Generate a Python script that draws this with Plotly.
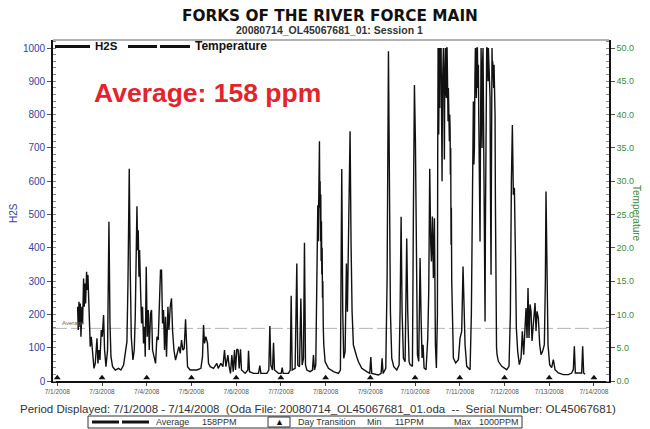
import plotly.graph_objects as go

# ---------------- data ----------------
day_labels = ["7/1/2008", "7/3/2008", "7/4/2008", "7/5/2008", "7/6/2008", "7/7/2008",
              "7/8/2008", "7/9/2008", "7/10/2008", "7/11/2008", "7/12/2008", "7/13/2008", "7/14/2008"]
day_transitions = [0, 1, 2, 3, 4, 5, 6, 7, 8, 9, 10, 11, 12]

left_ticks = [0, 100, 200, 300, 400, 500, 600, 700, 800, 900, 1000]
right_ticks = [0, 5, 10, 15, 20, 25, 30, 35, 40, 45, 50]

average_ppm = 158
min_ppm = 11
max_ppm = 1000

# elapsed days since 7/1/2008 00:00
h2s_day = [
    0.454, 0.469, 0.485, 0.499, 0.514, 0.529, 0.551, 0.566, 0.588, 0.603, 0.618, 0.633, 0.655, 0.670,
    0.685, 0.708, 0.722, 0.737, 0.760, 0.789, 0.820, 0.849, 0.887, 0.909, 0.931, 0.954, 0.983, 1.006,
    1.035, 1.057, 1.088, 1.124, 1.155, 1.178, 1.200, 1.236, 1.296, 1.370, 1.423, 1.482, 1.527, 1.557,
    1.580, 1.609, 1.631, 1.654, 1.691, 1.721, 1.743, 1.765, 1.781, 1.795, 1.810, 1.826, 1.840, 1.862,
    1.884, 1.906, 1.928, 1.951, 1.966, 1.989, 2.011, 2.034, 2.056, 2.085, 2.107, 2.130, 2.168, 2.197,
    2.228, 2.257, 2.286, 2.308, 2.331, 2.353, 2.375, 2.398, 2.420, 2.442, 2.474, 2.496, 2.525, 2.554,
    2.577, 2.608, 2.644, 2.689, 2.719, 2.749, 2.778, 2.809, 2.838, 2.868, 2.890, 2.912, 2.972, 3.122,
    3.211, 3.247, 3.270, 3.292, 3.322, 3.359, 3.381, 3.419, 3.493, 3.568, 3.598, 3.658, 3.703, 3.739,
    3.770, 3.815, 3.844,
    3.873, 3.903, 3.933, 3.963, 3.985, 4.015, 4.045, 4.067, 4.097, 4.119, 4.164, 4.201, 4.261, 4.276,
    4.298, 4.388, 4.499, 4.529, 4.552, 4.686, 4.730, 4.753, 4.775, 4.812, 4.835, 4.857, 4.946, 5.006,
    5.029, 5.051, 5.170, 5.208, 5.230, 5.252, 5.318, 5.341, 5.356, 5.378, 5.416, 5.446, 5.475, 5.505,
    5.527, 5.550, 5.580, 5.654, 5.706, 5.728, 5.751, 5.780, 5.795, 5.803, 5.815, 5.825, 5.835, 5.847,
    5.855, 5.862, 5.870, 5.877, 5.885, 5.892, 5.900, 5.907, 5.915, 5.922, 5.930, 5.937, 5.948, 5.959,
    5.989, 6.063, 6.175, 6.287, 6.331, 6.361, 6.383, 6.405, 6.436, 6.465, 6.487, 6.517, 6.547, 6.569,
    6.592, 6.621, 6.659, 6.696, 6.734, 6.808, 6.920, 6.987, 7.010, 7.032, 7.181, 7.241, 7.263, 7.285,
    7.345, 7.375, 7.405, 7.427, 7.449, 7.479, 7.524, 7.591, 7.643, 7.665, 7.688, 7.710, 7.740, 7.777,
    7.814, 7.836, 7.866,
    7.889, 7.941, 7.963, 7.986, 8.008, 8.030, 8.053, 8.082, 8.112, 8.135, 8.157, 8.179, 8.202, 8.246,
    8.284, 8.306, 8.328, 8.351, 8.366, 8.388, 8.410, 8.433, 8.455, 8.477,
    8.500, 8.507, 8.515, 8.522, 8.529, 8.537, 8.544, 8.552, 8.559, 8.567, 8.574, 8.582, 8.590, 8.597,
    8.604, 8.612, 8.619, 8.627, 8.634, 8.641, 8.649, 8.656, 8.664, 8.671, 8.678, 8.686, 8.693, 8.701,
    8.708, 8.716, 8.723, 8.730, 8.738, 8.745, 8.753, 8.760, 8.768, 8.775, 8.783, 8.790, 8.797, 8.805,
    8.812, 8.820, 8.827, 8.842, 8.857,
    8.909, 8.969, 9.006, 9.043, 9.073, 9.096, 9.118, 9.155, 9.230,
    9.259, 9.270, 9.282, 9.293, 9.304, 9.316, 9.327, 9.338, 9.349, 9.360, 9.371, 9.383, 9.394, 9.405,
    9.416, 9.424, 9.435, 9.445, 9.453, 9.462, 9.470, 9.476, 9.485, 9.492, 9.498, 9.508, 9.515, 9.520,
    9.528, 9.536, 9.543, 9.550, 9.558, 9.565, 9.573, 9.580, 9.587, 9.595, 9.602, 9.610, 9.618, 9.625,
    9.632, 9.640, 9.647, 9.654, 9.662, 9.670, 9.677, 9.685, 9.692, 9.699, 9.707, 9.714, 9.721, 9.729,
    9.736, 9.744, 9.751, 9.759, 9.766, 9.774, 9.781, 9.789, 9.796, 9.804, 9.811, 9.822, 9.833, 9.863,
    9.938, 10.049, 10.101, 10.131, 10.154, 10.176, 10.198, 10.221, 10.243, 10.265, 10.295, 10.332,
    10.370, 10.399, 10.429, 10.459, 10.481, 10.504, 10.526, 10.548, 10.571, 10.593, 10.615, 10.638,
    10.660, 10.683, 10.705, 10.727, 10.757, 10.787, 10.817, 10.854, 10.891, 10.914, 10.928, 10.951,
    10.973, 11.010, 11.055, 11.092, 11.130, 11.204, 11.316, 11.428, 11.502, 11.539, 11.562, 11.584,
    11.651, 11.726, 11.748, 11.770, 11.800,
]

h2s_ppm = [
    223, 153, 238, 163, 233, 133, 223, 173, 308, 223, 293, 233, 328, 273,
    318, 213, 173, 103, 133, 83, 38, 53, 128, 53, 93, 63, 153, 133,
    198, 93, 43, 93, 478, 173, 73, 43, 33, 38, 33, 48, 93, 118,
    293, 637, 333, 133, 63, 93, 193, 393, 525, 393, 453, 313, 393, 273,
    173, 223, 113, 163, 73, 343, 133, 213, 93, 203, 213, 93, 73, 53,
    133, 123, 243, 333, 333, 173, 213, 93, 193, 73, 223, 153, 223, 248,
    153, 93, 63, 93, 103, 83, 123, 93, 98, 185, 93, 43, 33, 33,
    38, 73, 168, 113, 133, 113, 53, 43, 38, 53, 38, 53, 43, 93,
    43, 78, 43,
    23, 78, 28, 93, 33, 96, 93, 38, 95, 33, 28, 23, 33, 91,
    28, 23, 23, 46, 23, 23, 33, 165, 48, 33, 115, 33, 23, 23,
    40, 23, 23, 33, 256, 33, 38, 208, 353, 48, 43, 248, 48, 68,
    415, 48, 33, 28, 33, 78, 33, 48, 200, 308, 450, 528, 420, 588,
    470, 720, 520, 600, 420, 560, 360, 480, 320, 400, 250, 300, 160, 108,
    58, 38, 28, 23, 33, 637, 208, 68, 88, 353, 208, 508, 750, 408,
    208, 108, 88, 73, 58, 38, 28, 23, 72, 23, 18, 23, 68, 23,
    38, 308, 990, 548, 208, 68, 43, 33, 48, 208, 493, 208, 68, 58,
    428, 208, 58,
    49, 44, 509, 889, 719, 309, 79, 59, 369, 189, 69, 109, 39, 34,
    129, 269, 637, 409, 359, 494, 309, 489, 109, 39,
    200, 700, 1000, 860, 740, 950, 1000, 820, 1000, 850, 980, 1000, 760, 900,
    600, 880, 1000, 900, 1000, 900, 780, 665, 900, 1000, 1000, 870, 960, 850,
    1000, 1000, 880, 940, 780, 880, 800, 810, 720, 800, 759, 620, 700, 409,
    520, 300, 229, 120, 69,
    54, 64, 129, 149, 344, 200, 109, 44, 34,
    200, 420, 579, 700, 839, 650, 700, 900, 1000, 920, 850, 1000, 1000, 880,
    950, 800, 650, 520, 419, 700, 1000, 1000, 880, 760, 700, 950, 1000, 1000,
    850, 700, 609, 450, 260, 179, 450, 700, 800, 950, 1000, 1000, 920, 980,
    900, 1000, 960, 1000, 900, 870, 850, 600, 450, 319, 600, 900, 1000, 930,
    960, 909, 960, 880, 950, 870, 820, 799, 550, 300, 159, 100, 80, 59,
    44, 34, 44, 200, 600, 769, 559, 580, 389, 159, 89, 49,
    69, 149, 79, 189, 219, 129, 279, 129, 230, 209, 120, 159,
    200, 234, 150, 209, 189, 109, 79, 90, 109, 300, 569, 300,
    109, 49, 40, 64, 34, 24, 19, 19, 24, 34, 104, 24,
    24, 24, 104, 24, 20,
]

# ---------------- geometry (page pixels -> figure paper) ----------------
OFF = 8                      # page body margin that offsets the figure
PW, PH = 650, 429            # page (reference) size
W, H = PW - OFF, PH - OFF    # figure size
L, R, T, B = 53, 609, 40, 381   # plot area in page pixels


def px(x):
    return (x - L) / (R - L)


def py(y):
    return (B - y) / (B - T)


FONT = "Liberation Sans, Arial, sans-serif"
BLUE = "#33449a"
GREEN = "#3a8a3a"

fig = go.Figure()

fig.add_trace(go.Scatter(
    x=h2s_day, y=h2s_ppm, mode="lines",
    line=dict(color="#111111", width=1.4),
    name="H2S", showlegend=False, hoverinfo="skip",
))

# temperature axis carrier (no temperature trace is visible in the source)
fig.add_trace(go.Scatter(x=[None], y=[None], yaxis="y2", mode="lines",
                         name="Temperature", showlegend=False))

# day transition markers
fig.add_trace(go.Scatter(
    x=day_transitions, y=[10] * len(day_transitions), mode="markers",
    marker=dict(symbol="triangle-up", size=6, color="#111111"),
    cliponaxis=False, showlegend=False, hoverinfo="skip",
))

y_top = (B - T) / 0.333
fig.update_layout(
    width=W, height=H,
    margin=dict(l=L - OFF, r=PW - R, t=T - OFF, b=PH - B),
    paper_bgcolor="white", plot_bgcolor="white",
    font=dict(family=FONT, color="#222"),
    showlegend=False,
    xaxis=dict(
        range=[(L - 57.3) / 44.72, (R - 57.3) / 44.72],
        tickvals=day_transitions, ticktext=day_labels,
        tickfont=dict(size=6.5, color="#555"),
        ticks="outside", ticklen=3, tickcolor="#444",
        showline=True, linecolor="#111", linewidth=1.6,
        showgrid=False, zeroline=False,
    ),
    yaxis=dict(
        range=[0, y_top], tickvals=left_ticks,
        tickfont=dict(size=10, color=BLUE, family=FONT),
        ticks="outside", ticklen=4, tickcolor="#555",
        showline=True, linecolor="#111", linewidth=1.6,
        showgrid=False, zeroline=False,
        minor=dict(ticks="inside", dtick=20, ticklen=3, tickcolor="#888"),
    ),
    yaxis2=dict(
        range=[0, y_top / 20], tickvals=right_ticks, tickformat=".1f",
        overlaying="y", side="right",
        tickfont=dict(size=9, color=GREEN, family=FONT),
        ticks="outside", ticklen=4, tickcolor="#555",
        showline=True, linecolor="#111", linewidth=1.6,
        showgrid=False, zeroline=False,
        minor=dict(ticks="inside", dtick=1, ticklen=3, tickcolor="#888"),
    ),
)

shapes = []
# top frame line (grey)
shapes.append(dict(type="line", xref="paper", yref="paper", x0=0, x1=1, y0=1, y1=1,
                   line=dict(color="#666", width=1.2)))
# average line
shapes.append(dict(type="line", xref="paper", x0=0, x1=1, yref="y", y0=average_ppm, y1=average_ppm,
                   line=dict(color="#b5b5b5", width=1, dash="14px,4px"), layer="below"))
# legend lines (top-left, inside plot)
shapes.append(dict(type="line", xref="paper", yref="paper", x0=px(55), x1=px(90), y0=py(46.5), y1=py(46.5),
                   line=dict(color="#111", width=3)))
shapes.append(dict(type="line", xref="paper", yref="paper", x0=px(128), x1=px(157), y0=py(46.5), y1=py(46.5),
                   line=dict(color="#111", width=3)))
shapes.append(dict(type="line", xref="paper", yref="paper", x0=px(160), x1=px(190), y0=py(46.5), y1=py(46.5),
                   line=dict(color="#111", width=3)))
# bottom legend box
shapes.append(dict(type="rect", xref="paper", yref="paper", x0=px(88), x1=px(522), y0=py(416), y1=py(428),
                   line=dict(color="#333", width=1)))
shapes.append(dict(type="line", xref="paper", yref="paper", x0=px(92), x1=px(119), y0=py(422), y1=py(422),
                   line=dict(color="#111", width=3)))
shapes.append(dict(type="line", xref="paper", yref="paper", x0=px(122), x1=px(149), y0=py(422), y1=py(422),
                   line=dict(color="#111", width=3)))
shapes.append(dict(type="rect", xref="paper", yref="paper", x0=px(268), x1=px(290), y0=py(417), y1=py(427),
                   line=dict(color="#333", width=1)))
fig.update_layout(shapes=shapes)


def label(text, x, y, size, color="#333", anchor="left", bold=False, family=FONT, angle=0):
    return dict(text=f"<b>{text}</b>" if bold else text, x=px(x), y=py(y),
                xref="paper", yref="paper", showarrow=False, textangle=angle,
                font=dict(size=size, family=family, color=color),
                xanchor=anchor, yanchor="middle")


ann = [
    label("FORKS OF THE RIVER FORCE MAIN", 330, 16, 15.3, "#111", "center", True, "DejaVu Sans, sans-serif"),
    label("20080714_OL45067681_01: Session 1", 329, 30, 10.5, "#333", "center", True),
    label("H2S", 93, 46.5, 11.5, "#111", "left", True),
    label("Temperature", 193, 46.5, 12, "#111", "left", True),
    label(f"Average: {average_ppm} ppm", 92, 93, 26.5, "#e3242b", "left", True),
    label("H2S", 13, 213, 10, BLUE, "center", angle=-90),
    label("Temperature", 637, 213, 10, GREEN, "center", angle=90),
    label("Period Displayed: 7/1/2008 - 7/14/2008  (Oda File: 20080714_OL45067681_01.oda  --  "
          "Serial Number: OL45067681)", 318, 409, 11.5, "#333", "center"),
    label("Average", 154, 422, 9),
    label(f"{average_ppm}PPM", 200, 422, 9),
    label("\u25B2", 279, 422, 9, "#111", "center"),
    label("Day Transition", 296, 422, 9),
    label("Min", 365, 422, 9),
    label(f"{min_ppm}PPM", 393, 422, 9),
    label("Max", 452, 422, 9),
    label(f"{max_ppm}PPM", 477, 422, 9),
]
ann.append(dict(text="Average", x=px(60), y=average_ppm, xref="paper", yref="y", showarrow=False,
                font=dict(size=6, family=FONT, color="#666"), xanchor="left", yanchor="bottom"))
fig.update_layout(annotations=ann)

fig.write_html("out.html")
